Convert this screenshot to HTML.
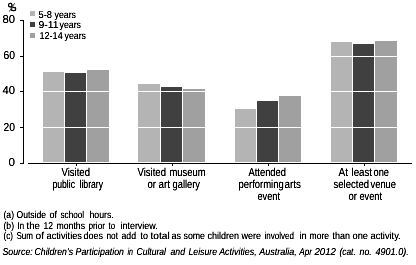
<!DOCTYPE html>
<html><head><meta charset="utf-8"><style>
html,body{margin:0;padding:0;background:#fff;overflow:hidden;}
svg{display:block;}
text{font-family:"Liberation Sans",sans-serif;fill:#000;text-rendering:geometricPrecision;}
</style></head><body>
<svg width="416" height="265" viewBox="0 0 416 265" style="will-change:transform">
<g shape-rendering="crispEdges">
<rect x="43" y="72" width="21" height="90" fill="#b4b4b4"/>
<rect x="65" y="73" width="21" height="89" fill="#404040"/>
<rect x="87" y="70" width="22" height="92" fill="#a0a0a0"/>
<rect x="138" y="84" width="22" height="78" fill="#b4b4b4"/>
<rect x="161" y="87" width="21" height="75" fill="#404040"/>
<rect x="183" y="89" width="22" height="73" fill="#a0a0a0"/>
<rect x="235" y="109" width="21" height="53" fill="#b4b4b4"/>
<rect x="257" y="101" width="21" height="61" fill="#404040"/>
<rect x="279" y="96" width="22" height="66" fill="#a0a0a0"/>
<rect x="331" y="42" width="21" height="120" fill="#b4b4b4"/>
<rect x="353" y="44" width="21" height="118" fill="#404040"/>
<rect x="375" y="41" width="22" height="121" fill="#a0a0a0"/>
<rect x="24" y="56" width="392" height="1" fill="#ffffff"/>
<rect x="24" y="91" width="392" height="1" fill="#ffffff"/>
<rect x="24" y="127" width="392" height="1" fill="#ffffff"/>
<rect x="23" y="20" width="1" height="144" fill="#000"/>
<rect x="20" y="20" width="3" height="1" fill="#000"/>
<rect x="20" y="56" width="3" height="1" fill="#000"/>
<rect x="20" y="91" width="3" height="1" fill="#000"/>
<rect x="20" y="127" width="3" height="1" fill="#000"/>
<rect x="20" y="163" width="3" height="1" fill="#000"/>
<rect x="28" y="163" width="384" height="1" fill="#000"/>
<rect x="76" y="164" width="1" height="2" fill="#000"/>
<rect x="172" y="164" width="1" height="2" fill="#000"/>
<rect x="268" y="164" width="1" height="2" fill="#000"/>
<rect x="364" y="164" width="1" height="2" fill="#000"/>
<rect x="30" y="11" width="5" height="5" fill="#b4b4b4"/>
<rect x="30" y="22" width="5" height="5" fill="#404040"/>
<rect x="30" y="33" width="5" height="5" fill="#a0a0a0"/>
</g>
<filter id="tb" x="0" y="0" width="416" height="265" filterUnits="userSpaceOnUse"><feComponentTransfer><feFuncA type="linear" slope="1.4" intercept="0"/></feComponentTransfer></filter>
<g filter="url(#tb)">
<g fill="none"><ellipse cx="10.3" cy="5.2" rx="1.75" ry="1.9" stroke="#000" stroke-width="1.05"/><ellipse cx="13.5" cy="9" rx="2.2" ry="1.65" stroke="#000" stroke-width="1.05"/><path d="M14.8 3 L9.3 11.6" stroke="#555" stroke-width="0.9"/></g>
<text x="2.50" y="23" style="font-size:11.5px" textLength="12.50" lengthAdjust="spacingAndGlyphs">80</text>
<text x="3.50" y="59" style="font-size:11.5px" textLength="11.50" lengthAdjust="spacingAndGlyphs">60</text>
<text x="2.50" y="94" style="font-size:11.5px" textLength="12.50" lengthAdjust="spacingAndGlyphs">40</text>
<text x="3.50" y="131" style="font-size:11.5px" textLength="11.50" lengthAdjust="spacingAndGlyphs">20</text>
<text x="8.50" y="166" style="font-size:11.5px" textLength="6.50" lengthAdjust="spacingAndGlyphs">0</text>
<text transform="translate(0 176) scale(1 1.15)" x="61.50" y="0" style="font-size:10px" textLength="28.50" lengthAdjust="spacingAndGlyphs">Visited</text>
<text transform="translate(0 188) scale(1 1.15)" x="52.50" y="0" style="font-size:10px" textLength="22.50" lengthAdjust="spacingAndGlyphs">public</text>
<text transform="translate(0 188) scale(1 1.15)" x="79.50" y="0" style="font-size:10px" textLength="23.50" lengthAdjust="spacingAndGlyphs">library</text>
<text transform="translate(0 176) scale(1 1.15)" x="137.50" y="0" style="font-size:10px" textLength="28.50" lengthAdjust="spacingAndGlyphs">Visited</text>
<text transform="translate(0 176) scale(1 1.15)" x="169.50" y="0" style="font-size:10px" textLength="36.20" lengthAdjust="spacingAndGlyphs">museum</text>
<text transform="translate(0 188) scale(1 1.15)" x="147.50" y="0" style="font-size:10px" textLength="8.50" lengthAdjust="spacingAndGlyphs">or</text>
<text transform="translate(0 188) scale(1 1.15)" x="158.50" y="0" style="font-size:10px" textLength="11.50" lengthAdjust="spacingAndGlyphs">art</text>
<text transform="translate(0 188) scale(1 1.15)" x="172.50" y="0" style="font-size:10px" textLength="27.50" lengthAdjust="spacingAndGlyphs">gallery</text>
<text transform="translate(0 176) scale(1 1.15)" x="248.50" y="0" style="font-size:10px" textLength="37.50" lengthAdjust="spacingAndGlyphs">Attended</text>
<text transform="translate(0 188) scale(1 1.15)" x="238.50" y="0" style="font-size:10px" textLength="45.20" lengthAdjust="spacingAndGlyphs">performing</text>
<text transform="translate(0 188) scale(1 1.15)" x="284.50" y="0" style="font-size:10px" textLength="16.50" lengthAdjust="spacingAndGlyphs">arts</text>
<text transform="translate(0 200) scale(1 1.15)" x="257.50" y="0" style="font-size:10px" textLength="22.50" lengthAdjust="spacingAndGlyphs">event</text>
<text transform="translate(0 176) scale(1 1.15)" x="338.50" y="0" style="font-size:10px" textLength="9.50" lengthAdjust="spacingAndGlyphs">At</text>
<text transform="translate(0 176) scale(1 1.15)" x="351.50" y="0" style="font-size:10px" textLength="20.50" lengthAdjust="spacingAndGlyphs">least</text>
<text transform="translate(0 176) scale(1 1.15)" x="373.50" y="0" style="font-size:10px" textLength="15.50" lengthAdjust="spacingAndGlyphs">one</text>
<text transform="translate(0 188) scale(1 1.15)" x="333.50" y="0" style="font-size:10px" textLength="35.50" lengthAdjust="spacingAndGlyphs">selected</text>
<text transform="translate(0 188) scale(1 1.15)" x="370.50" y="0" style="font-size:10px" textLength="25.50" lengthAdjust="spacingAndGlyphs">venue</text>
<text transform="translate(0 200) scale(1 1.15)" x="348.50" y="0" style="font-size:10px" textLength="8.50" lengthAdjust="spacingAndGlyphs">or</text>
<text transform="translate(0 200) scale(1 1.15)" x="359.50" y="0" style="font-size:10px" textLength="22.50" lengthAdjust="spacingAndGlyphs">event</text>
<text x="3.50" y="218" style="font-size:10px" textLength="10.50" lengthAdjust="spacingAndGlyphs">(a)</text>
<text x="16.50" y="218" style="font-size:10px" textLength="29.50" lengthAdjust="spacingAndGlyphs">Outside</text>
<text x="49.50" y="218" style="font-size:10px" textLength="7.50" lengthAdjust="spacingAndGlyphs">of</text>
<text x="60.50" y="218" style="font-size:10px" textLength="23.50" lengthAdjust="spacingAndGlyphs">school</text>
<text x="89.50" y="218" style="font-size:10px" textLength="24.20" lengthAdjust="spacingAndGlyphs">hours.</text>
<text x="3.50" y="229" style="font-size:10px" textLength="10.50" lengthAdjust="spacingAndGlyphs">(b)</text>
<text x="17.50" y="229" style="font-size:10px" textLength="6.50" lengthAdjust="spacingAndGlyphs">In</text>
<text x="26.50" y="229" style="font-size:10px" textLength="13.50" lengthAdjust="spacingAndGlyphs">the</text>
<text x="43.50" y="229" style="font-size:10px" textLength="9.50" lengthAdjust="spacingAndGlyphs">12</text>
<text x="56.50" y="229" style="font-size:10px" textLength="28.50" lengthAdjust="spacingAndGlyphs">months</text>
<text x="88.50" y="229" style="font-size:10px" textLength="16.50" lengthAdjust="spacingAndGlyphs">prior</text>
<text x="108.50" y="229" style="font-size:10px" textLength="6.50" lengthAdjust="spacingAndGlyphs">to</text>
<text x="120.50" y="229" style="font-size:10px" textLength="37.20" lengthAdjust="spacingAndGlyphs">interview.</text>
<text x="3.50" y="239" style="font-size:10px" textLength="9.50" lengthAdjust="spacingAndGlyphs">(c)</text>
<text x="16.50" y="239" style="font-size:10px" textLength="16.50" lengthAdjust="spacingAndGlyphs">Sum</text>
<text x="35.50" y="239" style="font-size:10px" textLength="8.50" lengthAdjust="spacingAndGlyphs">of</text>
<text x="46.50" y="239" style="font-size:10px" textLength="35.50" lengthAdjust="spacingAndGlyphs">activities</text>
<text x="83.50" y="239" style="font-size:10px" textLength="19.50" lengthAdjust="spacingAndGlyphs">does</text>
<text x="106.50" y="239" style="font-size:10px" textLength="11.50" lengthAdjust="spacingAndGlyphs">not</text>
<text x="121.50" y="239" style="font-size:10px" textLength="14.50" lengthAdjust="spacingAndGlyphs">add</text>
<text x="140.50" y="239" style="font-size:10px" textLength="7.50" lengthAdjust="spacingAndGlyphs">to</text>
<text x="150.50" y="239" style="font-size:10px" textLength="19.20" lengthAdjust="spacingAndGlyphs">total</text>
<text x="171.50" y="239" style="font-size:10px" textLength="9.50" lengthAdjust="spacingAndGlyphs">as</text>
<text x="183.50" y="239" style="font-size:10px" textLength="21.50" lengthAdjust="spacingAndGlyphs">some</text>
<text x="207.50" y="239" style="font-size:10px" textLength="31.50" lengthAdjust="spacingAndGlyphs">children</text>
<text x="241.50" y="239" style="font-size:10px" textLength="19.50" lengthAdjust="spacingAndGlyphs">were</text>
<text x="264.50" y="239" style="font-size:10px" textLength="29.50" lengthAdjust="spacingAndGlyphs">involved</text>
<text x="299.50" y="239" style="font-size:10px" textLength="7.20" lengthAdjust="spacingAndGlyphs">in</text>
<text x="309.50" y="239" style="font-size:10px" textLength="19.50" lengthAdjust="spacingAndGlyphs">more</text>
<text x="332.50" y="239" style="font-size:10px" textLength="17.50" lengthAdjust="spacingAndGlyphs">than</text>
<text x="352.50" y="239" style="font-size:10px" textLength="15.50" lengthAdjust="spacingAndGlyphs">one</text>
<text x="370.50" y="239" style="font-size:10px" textLength="30.20" lengthAdjust="spacingAndGlyphs">activity.</text>
<text x="2.50" y="255" style="font-size:10px;font-style:italic" textLength="30.20" lengthAdjust="spacingAndGlyphs">Source:</text>
<text x="34.50" y="255" style="font-size:10px;font-style:italic" textLength="38.50" lengthAdjust="spacingAndGlyphs">Children's</text>
<text x="75.50" y="255" style="font-size:10px;font-style:italic" textLength="48.50" lengthAdjust="spacingAndGlyphs">Participation</text>
<text x="127.50" y="255" style="font-size:10px;font-style:italic" textLength="5.50" lengthAdjust="spacingAndGlyphs">in</text>
<text x="136.50" y="255" style="font-size:10px;font-style:italic" textLength="29.50" lengthAdjust="spacingAndGlyphs">Cultural</text>
<text x="170.50" y="255" style="font-size:10px;font-style:italic" textLength="14.50" lengthAdjust="spacingAndGlyphs">and</text>
<text x="188.50" y="255" style="font-size:10px;font-style:italic" textLength="28.50" lengthAdjust="spacingAndGlyphs">Leisure</text>
<text x="219.20" y="255" style="font-size:10px;font-style:italic" textLength="37.50" lengthAdjust="spacingAndGlyphs">Activities,</text>
<text x="259.20" y="255" style="font-size:10px;font-style:italic" textLength="37.50" lengthAdjust="spacingAndGlyphs">Australia,</text>
<text x="299.20" y="255" style="font-size:10px;font-style:italic" textLength="12.80" lengthAdjust="spacingAndGlyphs">Apr</text>
<text x="314.50" y="255" style="font-size:10px;font-style:italic" textLength="21.50" lengthAdjust="spacingAndGlyphs">2012</text>
<text x="339.50" y="255" style="font-size:10px;font-style:italic" textLength="16.20" lengthAdjust="spacingAndGlyphs">(cat.</text>
<text x="359.50" y="255" style="font-size:10px;font-style:italic" textLength="12.20" lengthAdjust="spacingAndGlyphs">no.</text>
<text x="375.50" y="255" style="font-size:10px;font-style:italic" textLength="33.20" lengthAdjust="spacingAndGlyphs">4901.0).</text>
<text x="38.50" y="18" style="font-size:10px" textLength="13.50" lengthAdjust="spacingAndGlyphs">5-8</text>
<text x="54.50" y="18" style="font-size:10px" textLength="21.50" lengthAdjust="spacingAndGlyphs">years</text>
<text x="38.50" y="28" style="font-size:10px" textLength="20.20" lengthAdjust="spacingAndGlyphs">9-11</text>
<text x="59.50" y="28" style="font-size:10px" textLength="21.50" lengthAdjust="spacingAndGlyphs">years</text>
<text x="39.50" y="39" style="font-size:10px" textLength="23.20" lengthAdjust="spacingAndGlyphs">12-14</text>
<text x="64.50" y="39" style="font-size:10px" textLength="21.50" lengthAdjust="spacingAndGlyphs">years</text>
</g>
</svg>
</body></html>
